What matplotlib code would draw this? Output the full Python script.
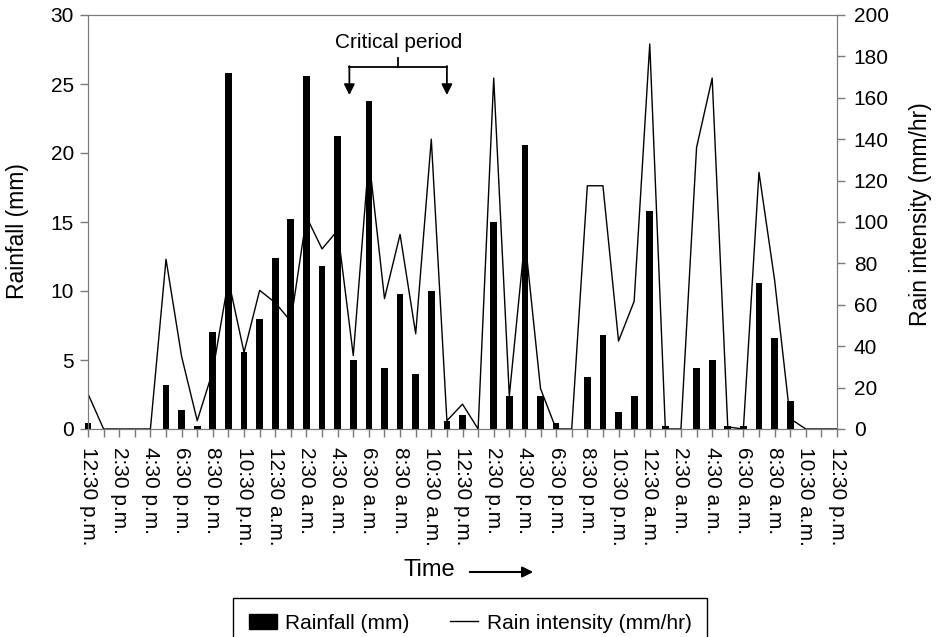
import matplotlib
matplotlib.use('Agg')
import matplotlib.pyplot as plt
from matplotlib.patches import Patch, FancyArrowPatch
from matplotlib.lines import Line2D
import numpy as np

plt.rcParams.update({
    'font.family': ['Liberation Sans', 'DejaVu Sans'],
    'font.size': 15,
})

# hourly readings, 12:30 p.m. day 1 -> 12:30 p.m. day 3
hours = np.arange(49)
rainfall_mm = [0.4, 0, 0, 0, 0, 3.2, 1.4, 0.2, 7.0, 25.8, 5.6, 8.0, 12.4, 15.2, 25.6,
               11.8, 21.2, 5.0, 23.8, 4.4, 9.8, 4.0, 10.0, 0.6, 1.0, 0, 15.0, 2.4, 20.6,
               2.4, 0.4, 0, 3.8, 6.8, 1.2, 2.4, 15.8, 0.2, 0, 4.4, 5.0, 0.2, 0.2, 10.6,
               6.6, 2.0, 0, 0, 0]
intensity_mmhr = [17, 0, 0, 0, 0, 82, 35, 4, 28, 72, 37, 67, 61, 52, 102.5, 87, 96,
                  35.5, 131, 63, 94, 46, 140, 4, 12, 0, 169.5, 16, 92, 19.5, 0, 0,
                  117.5, 117.5, 42.5, 61.7, 186, 0, 0, 136, 169.5, 1, 0, 124, 72, 5,
                  0, 0, 0]
day_labels = ['12:30 p.m.', '2:30 p.m.', '4:30 p.m.', '6:30 p.m.', '8:30 p.m.',
              '10:30 p.m.', '12:30 a.m.', '2:30 a.m.', '4:30 a.m.', '6:30 a.m.',
              '8:30 a.m.', '10:30 a.m.']
time_labels = day_labels * 2 + ['12:30 p.m.']
crit_start, crit_end = 16.75, 23.0

GRAY = '#7a7a7a'

fig = plt.figure(figsize=(9.36, 6.37), dpi=100)
ax = fig.add_axes([88 / 936, 1 - 429 / 637, 749 / 936, 414 / 637])
ax2 = ax.twinx()

ax.bar(hours, rainfall_mm, width=0.43, color='black', clip_on=False, zorder=3)
ax2.plot(hours, intensity_mmhr, color='black', lw=1.0)

ax.set_xlim(0, 48)
ax.set_ylim(0, 30)
ax2.set_ylim(0, 200)
ax.set_yticks(np.arange(0, 31, 5))
ax2.set_yticks(np.arange(0, 201, 20))
ax.set_xticks(hours[::2])
ax.set_xticks(hours[1::2], minor=True)
ax.set_xticklabels(time_labels, rotation=-90, va='top', ha='center')

for a in (ax, ax2):
    for s in a.spines.values():
        s.set_color(GRAY)
    a.tick_params(which='both', color=GRAY, length=6, width=1, direction='out')
ax.tick_params(axis='x', pad=7)
ax.tick_params(axis='y', pad=4)
ax2.tick_params(axis='y', pad=6)

ax.set_ylabel('Rainfall (mm)', fontsize=16.5)
ax.yaxis.set_label_coords(-0.079, 0.478)
ax2.set_ylabel('Rain intensity (mm/hr)', fontsize=16.5)
ax2.yaxis.set_label_coords(1.096, 0.52)

# critical period bracket
yb = 26.25
ax.plot([crit_start, crit_end], [yb, yb], color='black', lw=1.3, clip_on=False)
mid = (crit_start + crit_end) / 2
ax.plot([mid, mid], [yb, 26.9], color='black', lw=1.3)
for xc in (crit_start, crit_end):
    ax.annotate('', xy=(xc, 24.2), xytext=(xc, yb + 0.05),
                arrowprops=dict(arrowstyle='-|>', color='black', lw=1.3,
                                mutation_scale=16, shrinkA=0, shrinkB=0))
ax.text(mid, 28.0, 'Critical period', ha='center', va='center', fontsize=15)

# time label with arrow
fig.text(429 / 936, 1 - 570 / 637, 'Time', ha='center', va='center', fontsize=17)
fig.add_artist(FancyArrowPatch(
    (467 / 936, 1 - 572 / 637), (536 / 936, 1 - 572 / 637),
    transform=fig.transFigure, arrowstyle='-|>', mutation_scale=16,
    color='black', lw=1.5))

handles = [Patch(facecolor='black', edgecolor='black', label='Rainfall (mm)'),
           Line2D([0], [0], color='black', lw=1.0, label='Rain intensity (mm/hr)')]
leg = fig.legend(handles=handles, loc='upper center', bbox_to_anchor=(470 / 936, 1 - 598 / 637),
                 ncol=2, fancybox=False, framealpha=1, edgecolor='black',
                 handlelength=1.35, handletextpad=0.4, columnspacing=1.95,
                 borderpad=0.75, borderaxespad=0, fontsize=15)
leg.get_frame().set_linewidth(1.0)

fig.savefig('out.png', dpi=100)
